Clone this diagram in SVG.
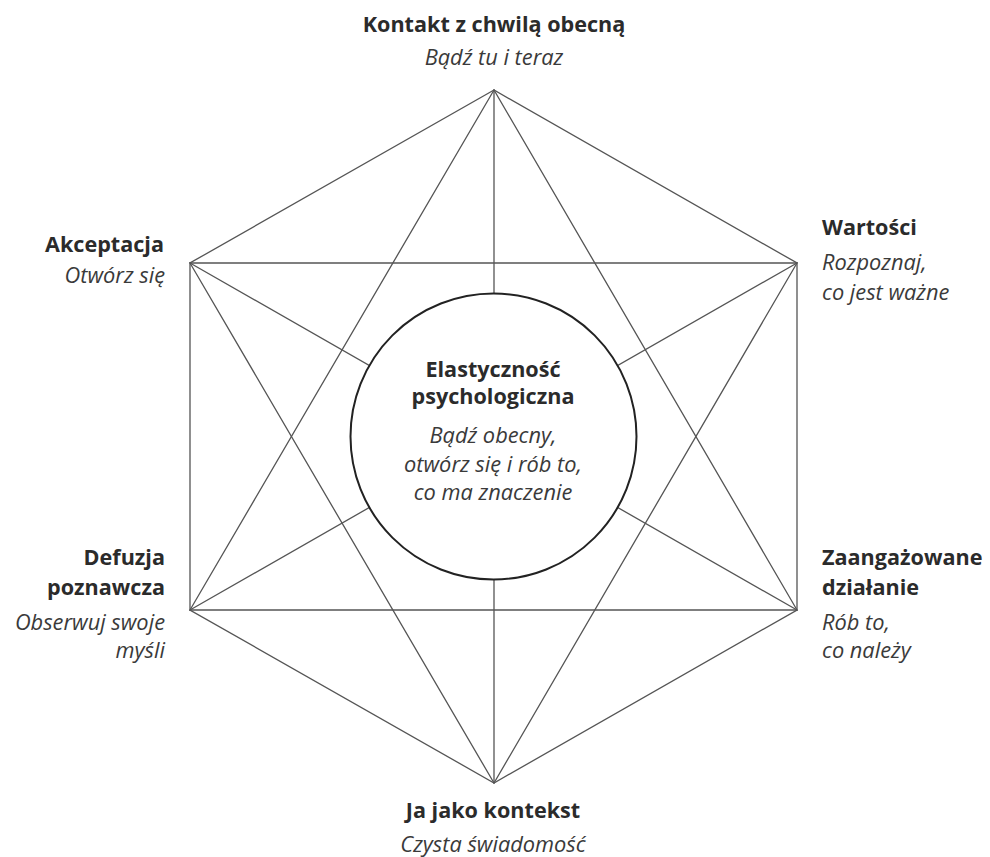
<svg xmlns="http://www.w3.org/2000/svg" width="990" height="857" viewBox="0 0 990 857">
<style>
.ln{stroke:#555;stroke-width:1.3;fill:none;stroke-linecap:round}
.b{font-family:"Open Sans","Liberation Sans",sans-serif;font-weight:700;font-size:21.6px;fill:#2b2b2b}
.i{font-family:"Open Sans","Liberation Sans",sans-serif;font-style:italic;font-size:21.8px;fill:#3a3a3a}
.m{text-anchor:middle}.e{text-anchor:end}
</style>
<rect width="990" height="857" fill="#fff"/>
<g id="connectors">
<path class="ln" d="M494,90 L190,263 L190,610 L494,783 L797,610 L797,263 Z"/>
<path class="ln" d="M494,90 L190,610 L797,610 Z"/>
<path class="ln" d="M494,783 L190,263 L797,263 Z"/>
<line class="ln" x1="494" y1="90" x2="494" y2="783"/>
<line class="ln" x1="190" y1="263" x2="797" y2="610"/>
<line class="ln" x1="797" y1="263" x2="190" y2="610"/>
</g>
<g id="center">
<circle cx="493.5" cy="436.5" r="143" fill="#fff" stroke="#222" stroke-width="2"/>
<text class="b m" x="493" y="377">Elastyczność</text>
<text class="b m" x="493" y="404">psychologiczna</text>
<text class="i m" x="493" y="443">Bądź obecny,</text>
<text class="i m" x="493" y="472">otwórz się i rób to,</text>
<text class="i m" x="493" y="500">co ma znaczenie</text>
</g>
<g id="top">
<text class="b m" x="494" y="32">Kontakt z chwilą obecną</text>
<text class="i m" x="494" y="65">Bądź tu i teraz</text>
</g>
<g id="upper-left">
<text class="b e" x="164" y="252">Akceptacja</text>
<text class="i e" x="165" y="283">Otwórz się</text>
</g>
<g id="upper-right">
<text class="b" x="822" y="235">Wartości</text>
<text class="i" x="822" y="270">Rozpoznaj,</text>
<text class="i" x="822" y="300">co jest ważne</text>
</g>
<g id="lower-left">
<text class="b e" x="165" y="565">Defuzja</text>
<text class="b e" x="165" y="595">poznawcza</text>
<text class="i e" x="165" y="630">Obserwuj swoje</text>
<text class="i e" x="165" y="658">myśli</text>
</g>
<g id="lower-right">
<text class="b" x="822" y="565">Zaangażowane</text>
<text class="b" x="822" y="595">działanie</text>
<text class="i" x="822" y="630">Rób to,</text>
<text class="i" x="822" y="658">co należy</text>
</g>
<g id="bottom">
<text class="b m" x="493" y="818">Ja jako kontekst</text>
<text class="i m" x="493" y="852">Czysta świadomość</text>
</g>
</svg>
